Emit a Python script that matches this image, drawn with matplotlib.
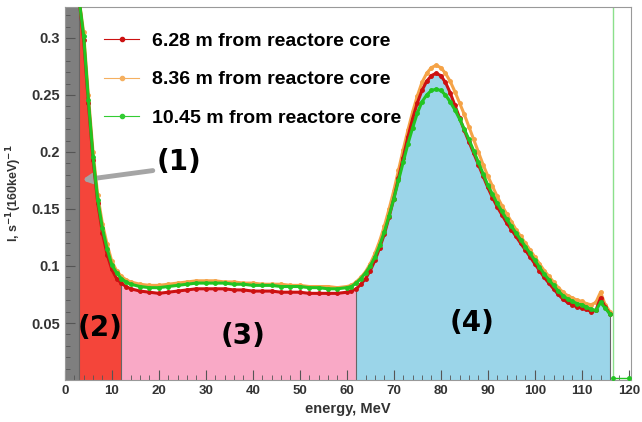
import numpy as np
import matplotlib
matplotlib.use("Agg")
import matplotlib.pyplot as plt
from matplotlib.lines import Line2D
from matplotlib.ticker import MultipleLocator, FixedLocator

plt.rcParams['font.family'] = ['Liberation Sans', 'DejaVu Sans']
plt.rcParams['font.weight'] = 'bold'

# energy grid, MeV
energy = [3, 4, 5, 6, 7, 8, 9, 10, 11, 12, 13, 14, 16, 18, 20, 22, 24, 26, 28, 30,
          32, 34, 36, 38, 40, 42, 44, 46, 48, 50, 52, 54, 56, 58, 60, 61, 62, 63, 64, 65,
          66, 67, 68, 69, 70, 71, 72, 73, 74, 75, 76, 77, 78, 79, 80, 81, 82, 83, 84, 85,
          86, 87, 88, 89, 90, 91, 92, 93, 94, 95, 96, 97, 98, 99, 100, 101, 102, 103, 104, 105,
          106, 107, 108, 109, 110, 111, 112, 113, 114, 115, 116]

# 6.28 m
red_vals = [0.335, 0.298, 0.243, 0.193, 0.155, 0.129, 0.110, 0.097, 0.089, 0.085, 0.082, 0.080, 0.078, 0.077, 0.076, 0.077, 0.078, 0.079, 0.080, 0.080,
            0.080, 0.080, 0.079, 0.079, 0.078, 0.078, 0.078, 0.077, 0.077, 0.077, 0.076, 0.076, 0.076, 0.076, 0.077, 0.078, 0.080, 0.084, 0.089, 0.096,
            0.105, 0.116, 0.128, 0.143, 0.159, 0.177, 0.195, 0.213, 0.229, 0.243, 0.254, 0.262, 0.267, 0.269, 0.267, 0.261, 0.252, 0.241, 0.230, 0.219,
            0.209, 0.199, 0.189, 0.179, 0.169, 0.160, 0.152, 0.145, 0.138, 0.132, 0.126, 0.120, 0.114, 0.108, 0.102, 0.096, 0.090, 0.085, 0.080, 0.075,
            0.071, 0.068, 0.066, 0.064, 0.063, 0.062, 0.060, 0.061, 0.072, 0.064, 0.058]

# 8.36 m
orange_vals = [0.335, 0.305, 0.250, 0.200, 0.162, 0.137, 0.119, 0.104, 0.096, 0.091, 0.088, 0.086, 0.084, 0.083, 0.083, 0.084, 0.085, 0.086, 0.087, 0.087,
               0.087, 0.086, 0.086, 0.085, 0.085, 0.084, 0.084, 0.084, 0.083, 0.083, 0.082, 0.082, 0.082, 0.081, 0.082, 0.083, 0.086, 0.090, 0.095, 0.102,
               0.111, 0.122, 0.135, 0.150, 0.166, 0.184, 0.202, 0.219, 0.235, 0.249, 0.261, 0.269, 0.274, 0.276, 0.274, 0.269, 0.262, 0.253, 0.243, 0.233,
               0.222, 0.211, 0.200, 0.189, 0.179, 0.170, 0.161, 0.153, 0.146, 0.139, 0.132, 0.126, 0.120, 0.114, 0.108, 0.102, 0.096, 0.091, 0.086, 0.081,
               0.077, 0.074, 0.072, 0.070, 0.069, 0.067, 0.066, 0.068, 0.077, 0.066, 0.060]

# 10.45 m
green_vals = [0.335, 0.302, 0.246, 0.196, 0.158, 0.133, 0.115, 0.101, 0.094, 0.089, 0.086, 0.084, 0.082, 0.081, 0.081, 0.082, 0.083, 0.084, 0.085, 0.085,
              0.085, 0.085, 0.084, 0.084, 0.083, 0.083, 0.083, 0.082, 0.082, 0.082, 0.081, 0.081, 0.080, 0.080, 0.081, 0.082, 0.085, 0.089, 0.094, 0.100,
              0.108, 0.118, 0.130, 0.144, 0.159, 0.175, 0.191, 0.207, 0.221, 0.234, 0.244, 0.250, 0.254, 0.255, 0.254, 0.250, 0.244, 0.237, 0.229, 0.220,
              0.211, 0.201, 0.191, 0.181, 0.171, 0.163, 0.155, 0.148, 0.141, 0.135, 0.129, 0.123, 0.117, 0.111, 0.105, 0.099, 0.093, 0.088, 0.083, 0.078,
              0.074, 0.071, 0.069, 0.067, 0.066, 0.064, 0.062, 0.061, 0.068, 0.063, 0.058]

labels = ['6.28 m from reactore core', '8.36 m from reactore core', '10.45 m from reactore core']
region_edges = [0, 3, 12, 62, 116]
region_names = ['(1)', '(2)', '(3)', '(4)']
region_colors = ['#7f7f7f', '#f4453a', '#f9a9c6', '#9bd5e9']

E = np.array(energy)
red = np.array(red_vals)
orange = np.array(orange_vals)
green = np.array(green_vals)

ymax = 0.327

fig = plt.figure(figsize=(6.42, 4.22), dpi=100)
ax = fig.add_axes([0.101, 0.0995, 0.882, 0.8835])

# shaded regions
ax.fill_between([region_edges[0], region_edges[1]], 0, ymax, color=region_colors[0], lw=0)
for i in range(1, 4):
    m = (E >= region_edges[i]) & (E <= region_edges[i + 1])
    ax.fill_between(E[m], 0, red[m], color=region_colors[i], lw=0)
for x in region_edges[1:]:
    ax.plot([x, x], [0, np.interp(x, E, red)], color='#666666', lw=0.8)

# spectra
ax.plot(E, orange, color='#f5a347', lw=2.2, marker='o', ms=2.5, zorder=3)
ax.plot(E, red, color='#cc1111', lw=2.2, marker='o', ms=2.5, zorder=4)
ax.plot(E, green, color='#22c422', lw=2.2, marker='o', ms=2.5, zorder=5)
ax.plot([116.6, 116.6], [0, ymax], color='#8be08b', lw=1.0, zorder=2)
ax.plot([116.6, 120], [0.002, 0.002], color='#22c422', lw=1.0, marker='o', ms=2.5, zorder=5)

handles = [Line2D([], [], color=c, lw=0.8, marker='o', ms=3)
           for c in ['#cc1111', '#f5b060', '#33cc33']]
ax.legend(handles, labels, loc='upper left', bbox_to_anchor=(0.07, 0.933),
          frameon=False, fontsize=14, handlelength=1.8, handletextpad=0.62,
          labelspacing=1.08, borderpad=0, borderaxespad=0, numpoints=1)

# region labels
lab_kw = dict(fontsize=20, fontweight='bold', ha='center', va='center', family='DejaVu Sans')
ax.text(24.3, 0.191, region_names[0], **lab_kw)
ax.annotate('', xy=(3.0, 0.175), xytext=(19.3, 0.184),
            arrowprops=dict(arrowstyle='-|>', color='#a5a5a5', lw=3.5, mutation_scale=12))
ax.text(7.4, 0.046, region_names[1], **lab_kw)
ax.text(38.0, 0.039, region_names[2], **lab_kw)
ax.text(86.6, 0.050, region_names[3], **lab_kw)

ax.set_xlim(0, 120.5)
ax.set_ylim(0, ymax)
ax.xaxis.set_major_locator(MultipleLocator(10))
ax.xaxis.set_minor_locator(MultipleLocator(2))
ax.yaxis.set_major_locator(FixedLocator([0.05, 0.1, 0.15, 0.2, 0.25, 0.3]))
ax.yaxis.set_minor_locator(MultipleLocator(0.01))
ax.set_yticklabels(['0.05', '0.1', '0.15', '0.2', '0.25', '0.3'])
ax.tick_params(which='both', direction='in', colors='#555555', labelcolor='#333333',
               top=False, right=False)
ax.tick_params(axis='x', labelsize=9.5)
ax.tick_params(axis='y', labelsize=10.5)
ax.tick_params(which='major', length=7, width=0.8)
ax.tick_params(which='minor', length=3.5, width=0.6)
for lab in ax.get_xticklabels() + ax.get_yticklabels():
    lab.set_fontweight('bold')
for s in ax.spines.values():
    s.set_color('#999999')
    s.set_linewidth(0.8)

ax.set_xlabel('energy, MeV', fontsize=10.5, fontweight='bold', color='#333333', labelpad=4)
ax.set_ylabel(r'I, s$^{\mathbf{-1}}$(160keV)$^{\mathbf{-1}}$', fontsize=9, fontweight='bold',
              color='#333333', labelpad=5)

fig.savefig('out.png', dpi=100)
